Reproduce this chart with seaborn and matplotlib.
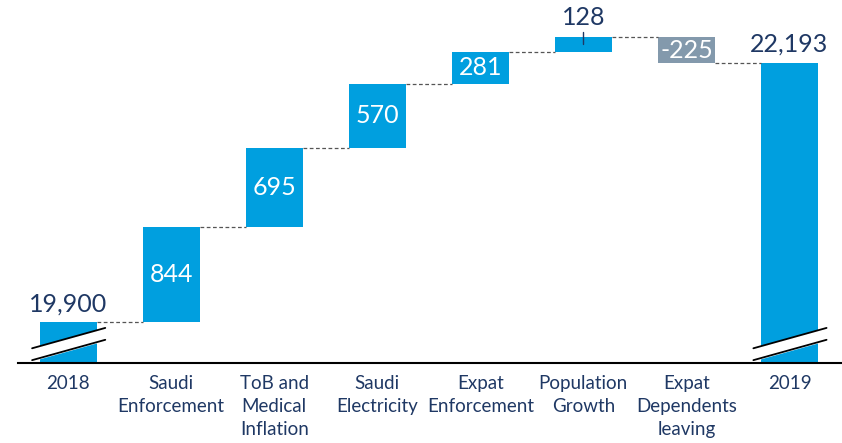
import numpy as np
import pandas as pd
import matplotlib
matplotlib.use("Agg")
import matplotlib.pyplot as plt
import seaborn as sns

# data
categories = ["2018", "Saudi\nEnforcement", "ToB and\nMedical\nInflation", "Saudi\nElectricity",
              "Expat\nEnforcement", "Population\nGrowth", "Expat\nDependents\nleaving", "2019"]
start_value = 19900
changes = [844, 695, 570, 281, 128, -225]
end_value = 22193
value_labels = ["19,900", "844", "695", "570", "281", "128", "-225", "22,193"]

blue = "#009FDF"
grey = "#8399AC"
navy = "#1F3864"

sns.set_theme(style="white")
plt.rcParams["font.family"] = ["Lato", "DejaVu Sans"]

# running totals for the floating bars
running = start_value + np.cumsum([0] + changes)
bottoms = [0] + list(running[:-1]) + [0]
heights = [start_value] + changes + [end_value]
colors = [blue] + [blue if c > 0 else grey for c in changes] + [blue]

df = pd.DataFrame({"Category": categories, "Height": heights, "Bottom": bottoms})

fig = plt.figure(figsize=(8.42, 4.43), dpi=100)
ax = fig.add_axes([0.021, 0.1806, 0.979, 0.7968])

for i, row in df.iterrows():
    ax.bar(i, row["Height"], bottom=row["Bottom"], width=0.55, color=colors[i], linewidth=0)
sns.barplot(x="Category", y="Height", data=df.iloc[0:0], ax=ax)  # keep seaborn categorical axis

ax.set_xlim(-0.49, 7.51)
ax.set_ylim(19540, 22660)
ax.set_xticks(range(len(categories)))
ax.set_xticklabels(categories, color=navy, fontsize=13.5, linespacing=1.42)
ax.tick_params(axis="x", length=0, pad=9)
ax.set_yticks([])
ax.set_xlabel("")
ax.set_ylabel("")
for s in ["top", "left", "right"]:
    ax.spines[s].set_visible(False)
ax.spines["bottom"].set_color("black")
ax.spines["bottom"].set_linewidth(1.5)

# connectors
tops = [start_value] + list(running[1:])
for i in range(len(categories) - 1):
    ax.plot([i + 0.275, i + 1 - 0.275], [tops[i], tops[i]], color="#555555",
            linestyle=(0, (3, 2)), linewidth=0.9)

# labels
for i, lab in enumerate(value_labels):
    if i == 0 or i == len(categories) - 1:
        top = heights[i]
        ax.annotate(lab, (i, top), xytext=(0, 5), textcoords="offset points",
                    ha="center", va="bottom", color=navy, fontsize=18)
    elif changes[i - 1] == 128:
        top = bottoms[i] + heights[i]
        ax.annotate(lab, (i, top), xytext=(0, 6), textcoords="offset points",
                    ha="center", va="bottom", color=navy, fontsize=18)
        ax.plot([i, i], [top - 60, top + 45], color=navy, linewidth=1)
    else:
        mid = bottoms[i] + heights[i] / 2
        ax.text(i, mid, lab, ha="center", va="center", color="white", fontsize=18)

# axis break marks on first and last bar
for i in [0, len(categories) - 1]:
    xs = np.array([i - 0.35, i + 0.36])
    y1 = np.array([19670, 19850])
    y2 = y1 - 105
    ax.fill_between(xs, y2, y1, color="white", zorder=3)
    ax.plot(xs, y1, color="black", linewidth=1.3, zorder=4)
    ax.plot(xs, y2, color="black", linewidth=1.3, zorder=4)

fig.savefig("out.png", dpi=100)
